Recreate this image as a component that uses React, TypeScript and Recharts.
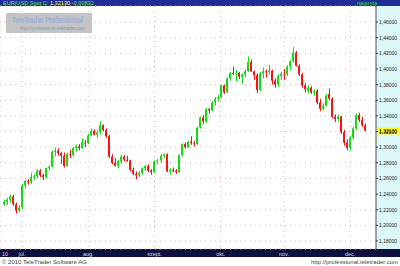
import { ComposedChart, Bar, XAxis, YAxis, CartesianGrid, ReferenceLine } from 'recharts';

// daily EUR/USD candles, 23 Jun - 8 Dec 2010
const dates = [
  '06-23', '06-24', '06-25', '06-28', '06-29', '06-30',
  '07-01', '07-02', '07-05', '07-06', '07-07', '07-08', '07-09', '07-12', '07-13', '07-14', '07-15',
  '07-16', '07-19', '07-20', '07-21', '07-22', '07-23', '07-26', '07-27', '07-28', '07-29', '07-30',
  '08-02', '08-03', '08-04', '08-05', '08-06', '08-09', '08-10', '08-11', '08-12', '08-13', '08-16',
  '08-17', '08-18', '08-19', '08-20', '08-23', '08-24', '08-25', '08-26', '08-27', '08-30', '08-31',
  '09-01', '09-02', '09-03', '09-06', '09-07', '09-08', '09-09', '09-10', '09-13', '09-14', '09-15',
  '09-16', '09-17', '09-20', '09-21', '09-22', '09-23', '09-24', '09-27', '09-28', '09-29', '09-30',
  '10-01', '10-04', '10-05', '10-06', '10-07', '10-08', '10-11', '10-12', '10-13', '10-14', '10-15',
  '10-18', '10-19', '10-20', '10-21', '10-22', '10-25', '10-26', '10-27', '10-28', '10-29',
  '11-01', '11-02', '11-03', '11-04', '11-05', '11-08', '11-09', '11-10', '11-11', '11-12', '11-15',
  '11-16', '11-17', '11-18', '11-19', '11-22', '11-23', '11-24', '11-25', '11-26', '11-29', '11-30',
  '12-01', '12-02', '12-03', '12-06', '12-07', '12-08',
];

const open = [
  1.2270, 1.2300, 1.2330, 1.2370, 1.2270, 1.2190,
  1.2230, 1.2510, 1.2565, 1.2550, 1.2620, 1.2630, 1.2700, 1.2640, 1.2620, 1.2730, 1.2750,
  1.2940, 1.2955, 1.2920, 1.2890, 1.2760, 1.2910, 1.2900, 1.2990, 1.3010, 1.2990, 1.3060,
  1.3050, 1.3150, 1.3210, 1.3160, 1.3190, 1.3280, 1.3220, 1.3140, 1.2880, 1.2800, 1.2760,
  1.2820, 1.2880, 1.2840, 1.2830, 1.2710, 1.2660, 1.2640, 1.2670, 1.2730, 1.2760, 1.2700,
  1.2680, 1.2820, 1.2830, 1.2890, 1.2910, 1.2690, 1.2710, 1.2700, 1.2680, 1.2900, 1.3040,
  1.3000, 1.3070, 1.3050, 1.3040, 1.3250, 1.3380, 1.3330, 1.3490, 1.3470, 1.3570, 1.3620,
  1.3640, 1.3790, 1.3700, 1.3880, 1.3950, 1.3940, 1.3950, 1.3900, 1.3930, 1.3970, 1.4090,
  1.3970, 1.3920, 1.3730, 1.3940, 1.3970, 1.3960, 1.3980, 1.3850, 1.3800, 1.3910,
  1.3940, 1.3930, 1.4030, 1.4100, 1.4210, 1.4040, 1.3930, 1.3790, 1.3720, 1.3760, 1.3700,
  1.3720, 1.3570, 1.3490, 1.3530, 1.3680, 1.3620, 1.3390, 1.3360, 1.3390, 1.3190, 1.3060,
  1.2990, 1.3120, 1.3240, 1.3410, 1.3350, 1.3280,
];
const high = [
  1.2330, 1.2350, 1.2390, 1.2390, 1.2290, 1.2260,
  1.2530, 1.2580, 1.2590, 1.2670, 1.2650, 1.2720, 1.2720, 1.2660, 1.2740, 1.2770, 1.2960,
  1.2990, 1.2985, 1.2940, 1.2930, 1.2930, 1.2970, 1.3000, 1.3030, 1.3040, 1.3110, 1.3090,
  1.3170, 1.3240, 1.3230, 1.3220, 1.3330, 1.3290, 1.3240, 1.3160, 1.2910, 1.2860, 1.2840,
  1.2900, 1.2900, 1.2890, 1.2840, 1.2740, 1.2690, 1.2690, 1.2740, 1.2770, 1.2780, 1.2720,
  1.2830, 1.2850, 1.2910, 1.2920, 1.2920, 1.2730, 1.2740, 1.2720, 1.2910, 1.3050, 1.3060,
  1.3080, 1.3140, 1.3080, 1.3260, 1.3390, 1.3410, 1.3500, 1.3500, 1.3590, 1.3640, 1.3670,
  1.3800, 1.3800, 1.3890, 1.3960, 1.4030, 1.3990, 1.3960, 1.3940, 1.3990, 1.4160, 1.4120,
  1.3980, 1.3940, 1.3960, 1.4020, 1.3990, 1.4050, 1.3990, 1.3880, 1.3930, 1.3960,
  1.4000, 1.4050, 1.4110, 1.4280, 1.4230, 1.4060, 1.3950, 1.3820, 1.3790, 1.3780, 1.3740,
  1.3740, 1.3620, 1.3560, 1.3680, 1.3750, 1.3640, 1.3420, 1.3410, 1.3400, 1.3220, 1.3100,
  1.3140, 1.3260, 1.3430, 1.3440, 1.3390, 1.3300,
];
const low = [
  1.2250, 1.2260, 1.2290, 1.2250, 1.2150, 1.2170,
  1.2210, 1.2470, 1.2520, 1.2530, 1.2580, 1.2600, 1.2620, 1.2580, 1.2600, 1.2700, 1.2740,
  1.2880, 1.2890, 1.2790, 1.2740, 1.2750, 1.2860, 1.2880, 1.2940, 1.2960, 1.2980, 1.3000,
  1.3040, 1.3140, 1.3150, 1.3120, 1.3160, 1.3200, 1.3120, 1.2860, 1.2780, 1.2750, 1.2730,
  1.2790, 1.2820, 1.2810, 1.2690, 1.2640, 1.2590, 1.2620, 1.2650, 1.2700, 1.2680, 1.2650,
  1.2670, 1.2780, 1.2800, 1.2860, 1.2680, 1.2650, 1.2680, 1.2660, 1.2670, 1.2880, 1.2980,
  1.2990, 1.3030, 1.3010, 1.3030, 1.3240, 1.3300, 1.3310, 1.3430, 1.3460, 1.3530, 1.3580,
  1.3630, 1.3680, 1.3690, 1.3850, 1.3920, 1.3840, 1.3870, 1.3810, 1.3900, 1.3960, 1.3960,
  1.3860, 1.3690, 1.3720, 1.3880, 1.3890, 1.3930, 1.3800, 1.3760, 1.3770, 1.3860,
  1.3860, 1.3910, 1.3980, 1.4080, 1.4030, 1.3910, 1.3760, 1.3700, 1.3690, 1.3680, 1.3660,
  1.3550, 1.3460, 1.3470, 1.3520, 1.3600, 1.3370, 1.3320, 1.3330, 1.3170, 1.3020, 1.2960,
  1.2960, 1.3100, 1.3220, 1.3320, 1.3260, 1.3200,
];
const close = [
  1.2300, 1.2330, 1.2370, 1.2270, 1.2190, 1.2230,
  1.2510, 1.2565, 1.2550, 1.2620, 1.2630, 1.2700, 1.2640, 1.2620, 1.2730, 1.2750, 1.2940,
  1.2955, 1.2920, 1.2890, 1.2760, 1.2910, 1.2900, 1.2990, 1.3010, 1.2990, 1.3060, 1.3050,
  1.3150, 1.3210, 1.3160, 1.3190, 1.3280, 1.3220, 1.3140, 1.2880, 1.2800, 1.2760, 1.2820,
  1.2880, 1.2840, 1.2830, 1.2710, 1.2660, 1.2640, 1.2670, 1.2730, 1.2760, 1.2700, 1.2680,
  1.2820, 1.2830, 1.2890, 1.2910, 1.2690, 1.2710, 1.2700, 1.2680, 1.2900, 1.3040, 1.3000,
  1.3070, 1.3050, 1.3040, 1.3250, 1.3380, 1.3330, 1.3490, 1.3470, 1.3570, 1.3620, 1.3640,
  1.3790, 1.3700, 1.3880, 1.3950, 1.3940, 1.3950, 1.3900, 1.3930, 1.3970, 1.4090, 1.3970,
  1.3920, 1.3730, 1.3940, 1.3970, 1.3960, 1.3980, 1.3850, 1.3800, 1.3910, 1.3940,
  1.3930, 1.4030, 1.4100, 1.4210, 1.4040, 1.3930, 1.3790, 1.3740, 1.3760, 1.3700, 1.3720,
  1.3570, 1.3490, 1.3530, 1.3660, 1.3620, 1.3390, 1.3360, 1.3390, 1.3190, 1.3060, 1.2990,
  1.3120, 1.3240, 1.3410, 1.3350, 1.3280, 1.3213,
];

const monthLabels = ['júl.', 'aug.', 'szept.', 'okt.', 'nov.', 'dec.'];
const priceTicks = [1.18, 1.2, 1.22, 1.24, 1.26, 1.28, 1.3, 1.32, 1.34, 1.36, 1.38, 1.4, 1.42, 1.44, 1.46];
const symbol = 'EUR/USD Spot';
const change = -0.00832;

const FONT = '"Liberation Sans", Arial, sans-serif';
const fmt = (v: number) => v.toFixed(5).replace('.', ',');

const data = dates.map((d, i) => ({ idx: i, date: d, open: open[i], high: high[i], low: low[i], close: close[i] }));
const monthStarts = dates
  .map((d, i) => (i > 0 && d.slice(0, 2) !== dates[i - 1].slice(0, 2) ? i : -1))
  .filter((i) => i >= 0);
const lastClose = close[close.length - 1];

function Candle(props: any) {
  const { x, y, width, height, payload } = props;
  if (!payload) return null;
  const top = Math.min(y, y + height);
  const h = Math.abs(height);
  const ratio = h / (payload.high - payload.low || 1);
  const yo = top + (payload.high - payload.open) * ratio;
  const yc = top + (payload.high - payload.close) * ratio;
  const up = payload.close >= payload.open;
  const color = up ? '#11dd11' : '#ff1010';
  const cx = Math.round(x + width / 2);
  return (
    <g>
      <rect x={cx} y={top} width={1} height={Math.max(h, 1)} fill={color} />
      <rect x={cx - 1} y={Math.min(yo, yc)} width={2} height={Math.max(1, Math.abs(yc - yo))} fill={color} />
    </g>
  );
}

const MonthTick = (props: any) => {
  const { x, y, payload } = props;
  const k = monthStarts.indexOf(payload.value);
  return (
    <text x={x} y={y + 6.5} textAnchor="middle" fontSize={5.5} fill="#dddddd" fontFamily={FONT}>
      {monthLabels[k]}
    </text>
  );
};

const PriceTick = (props: any) => {
  const { x, y, payload } = props;
  return (
    <text x={x + 1} y={y + 2} fontSize={5} fill="#222" fontFamily={FONT}>
      {fmt(payload.value)}
    </text>
  );
};

const PriceTag = (props: any) => {
  const vb = props.viewBox;
  if (!vb) return null;
  const x0 = vb.x + vb.width + 1;
  return (
    <g>
      <rect x={x0} y={vb.y - 3} width={23} height={7} fill="#ffff22" />
      <text x={x0 + 2} y={vb.y + 2} fontSize={5} fill="#000" fontFamily={FONT}>
        {fmt(lastClose)}
      </text>
    </g>
  );
};

export default function App() {
  return (
    <div style={{ position: 'absolute', left: 0, top: 0, width: 400, height: 266, background: '#fff', overflow: 'hidden' }}>
      <div style={{ position: 'absolute', left: 0, top: 0, width: 400, height: 6, background: '#1e2e96' }} />
      <div style={{ position: 'absolute', left: 376, top: 6, width: 24, height: 243, background: '#dcf7f7' }} />
      <div style={{ position: 'absolute', left: 0, top: 249, width: 400, height: 8, background: '#0e1040' }} />
      <div style={{ position: 'absolute', left: 0, top: 0 }}>
        <ComposedChart width={400} height={257} data={data} margin={{ top: 6, right: 0, bottom: 0, left: 0 }}>
          <CartesianGrid stroke="#e0b0b0" strokeDasharray="1 4" />
          <XAxis
            dataKey="idx"
            type="number"
            domain={[-1.33, 123.6]}
            allowDataOverflow
            ticks={monthStarts}
            interval={0}
            height={8}
            tickSize={0}
            tickMargin={0}
            axisLine={false}
            tickLine={false}
            tick={<MonthTick />}
          />
          <YAxis
            orientation="right"
            width={24}
            domain={[1.1698, 1.4805]}
            allowDataOverflow
            ticks={priceTicks}
            interval={0}
            tickSize={2}
            tickMargin={0}
            axisLine={{ stroke: '#555' }}
            tickLine={{ stroke: '#333' }}
            tick={<PriceTick />}
          />
          <ReferenceLine y={lastClose} stroke="none" label={<PriceTag />} />
          <Bar dataKey={(d: any) => [d.low, d.high]} barSize={3} shape={<Candle />} isAnimationActive={false} />
        </ComposedChart>
      </div>
      <svg width={400} height={266} style={{ position: 'absolute', left: 0, top: 0, pointerEvents: 'none' }} fontFamily={FONT}>
        <text x={3} y={5.3} fontSize={5.6}>
          <tspan fill="#66ee33">{symbol} C: </tspan>
          <tspan fill="#ffff44">{fmt(lastClose)}</tspan>
          <tspan fill="#66ee33"> {fmt(change)}</tspan>
        </text>
        <text x={357} y={5.3} fontSize={5.6} fill="#33dd33">naponta</text>
        <rect x={6} y={13} width={86} height={20} fill="#c4c4c4" />
        <text x={12} y={22.5} fontSize={9} fontWeight="bold" fill="#98aed8" textLength={71} lengthAdjust="spacingAndGlyphs">
          TeleTrader Professional
        </text>
        <text x={20} y={29.5} fontSize={5.2} fill="#8499c2" textLength={65} lengthAdjust="spacingAndGlyphs">
          http://professional.teletrader.com
        </text>
        <text x={2} y={255.5} fontSize={5.5} fill="#dddddd">10</text>
        <text x={2} y={263.5} fontSize={6} fill="#444">© 2010 TeleTrader Software AG</text>
        <text x={398} y={263.5} fontSize={6} fill="#444" textAnchor="end">http://professional.teletrader.com</text>
      </svg>
    </div>
  );
}
